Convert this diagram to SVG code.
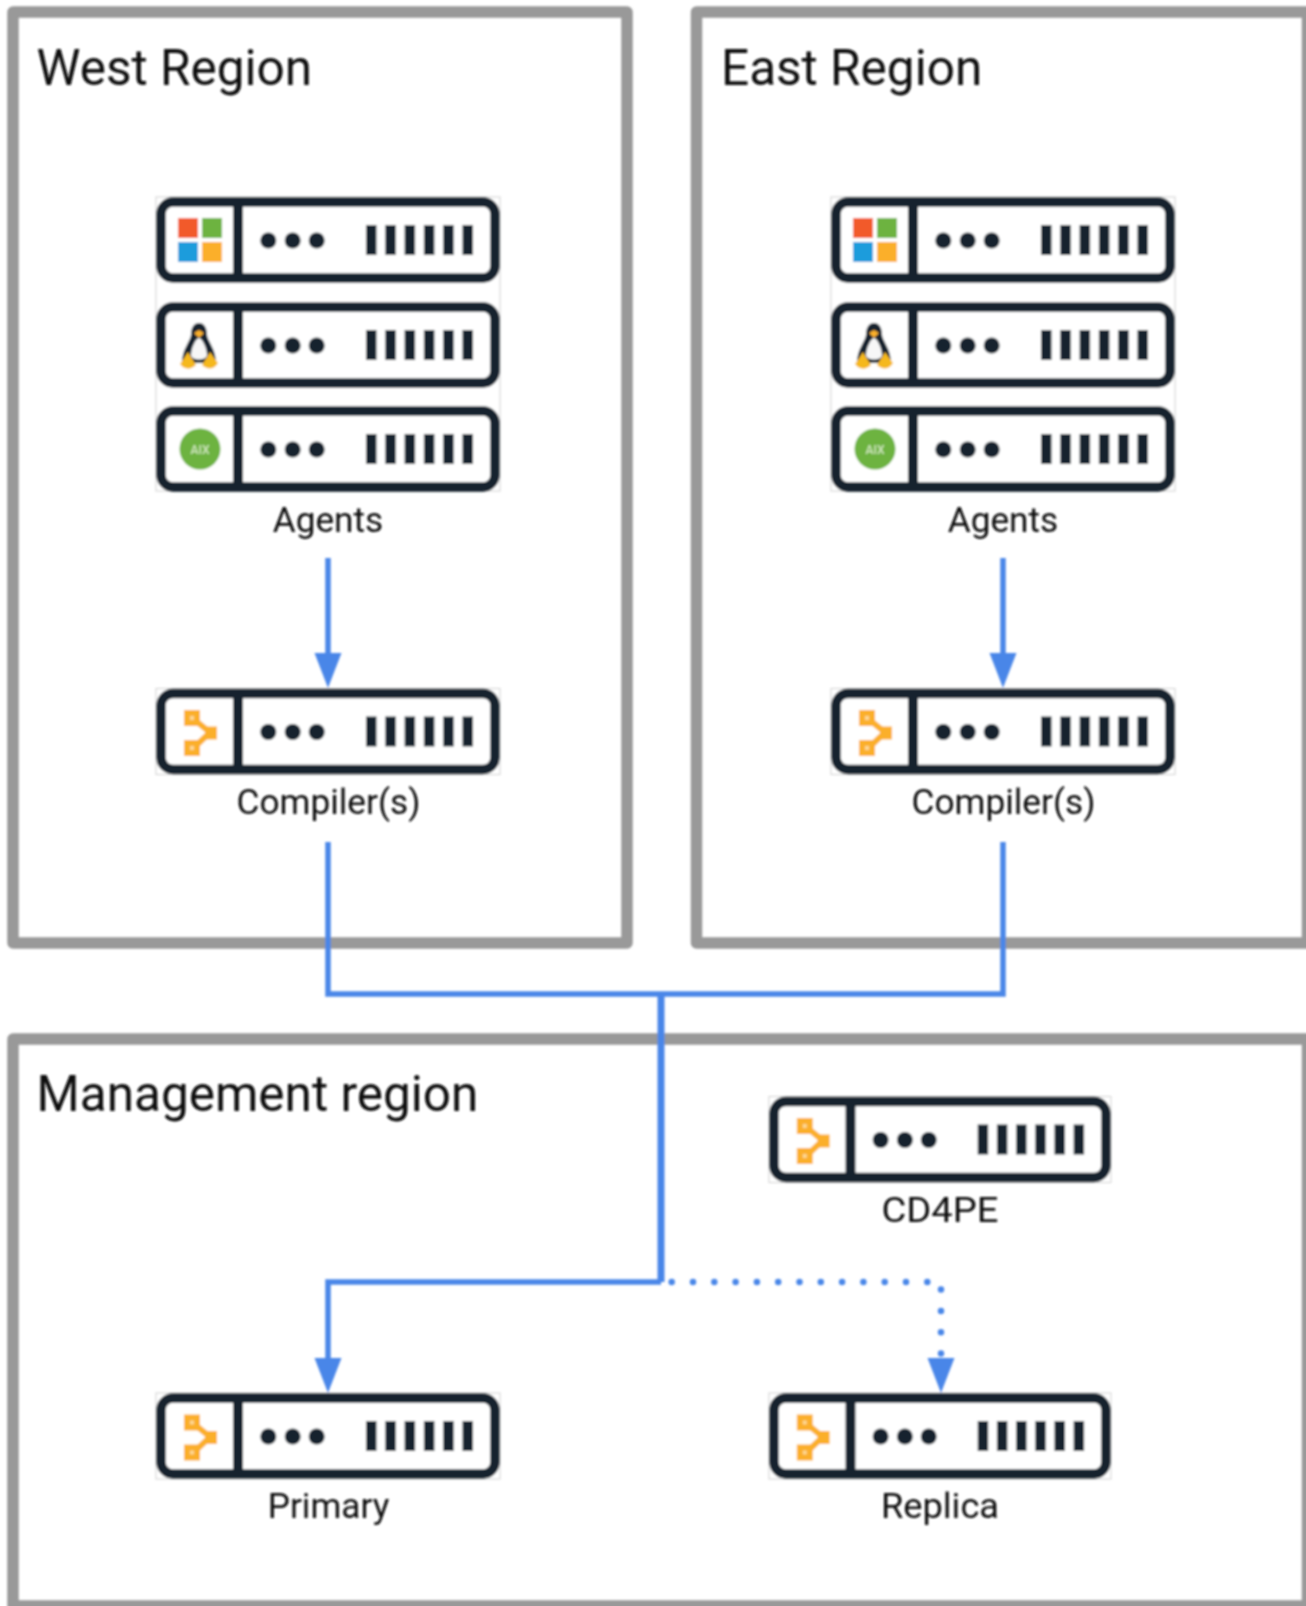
<svg xmlns="http://www.w3.org/2000/svg" width="1306" height="1606" viewBox="0 0 1306 1606">
<style>
.region{fill:none;stroke:#999;stroke-width:11.5;stroke-linejoin:round}
.title{font-family:Roboto,"Liberation Sans",sans-serif;font-size:49.5px;fill:#0c0c0c}
.label{font-family:Roboto,"Liberation Sans",sans-serif;font-size:35.2px;fill:#111;text-anchor:middle}
.wire{fill:none;stroke:#4a86e8;stroke-width:5.5}
.dot{fill:none;stroke:#4a86e8;stroke-width:6.5;stroke-linecap:round;stroke-dasharray:0 21.3}
.frame{fill:#fff;stroke:#d0d0d0;stroke-width:1}
.body{fill:none;stroke:#14232f;stroke-width:9.500}
.ink{fill:#14232f}
.org{fill:#fbaf2b}
</style>
<defs>
<filter id="soft" x="0" y="0" width="1306" height="1606" filterUnits="userSpaceOnUse"><feGaussianBlur stdDeviation="1"/></filter>
<marker id="arrow" markerUnits="userSpaceOnUse" markerWidth="36" markerHeight="28" refX="8" refY="14" orient="auto"><path d="M0 0.500L35 14L0 27.500Z" fill="#4a86e8"/></marker>
<g id="rack">
<rect class="body" x="5" y="5" width="334" height="76" rx="12"/>
<rect class="ink" x="77" y="4" width="10" height="78"/>
<circle class="ink" cx="112.300" cy="43.500" r="8"/><circle class="ink" cx="136.700" cy="43.500" r="8"/><circle class="ink" cx="160.700" cy="43.500" r="8"/>
<rect class="ink" x="210" y="28" width="10.500" height="30"/><rect class="ink" x="229.300" y="28" width="10.500" height="30"/><rect class="ink" x="248.600" y="28" width="10.500" height="30"/><rect class="ink" x="267.900" y="28" width="10.500" height="30"/><rect class="ink" x="287.200" y="28" width="10.500" height="30"/><rect class="ink" x="306.500" y="28" width="10.500" height="30"/>
</g>
<g id="puppet">
<path d="M37 30L54 44L37 60" fill="none" stroke="#fbaf2b" stroke-width="6"/>
<rect x="31" y="24.500" width="10" height="10" fill="#fdd792" stroke="#fbaf2b" stroke-width="6"/>
<rect x="31" y="54.500" width="10" height="10" fill="#fdd792" stroke="#fbaf2b" stroke-width="6"/>
<rect class="org" x="49" y="38" width="12" height="13"/>
</g>
<g id="agents">
<rect class="frame" x="0" y="0" width="344" height="294"/>
<use href="#rack"/><use href="#rack" y="105"/><use href="#rack" y="209"/>
<rect x="22" y="21" width="20" height="20" fill="#f25a2b"/><rect x="46" y="21" width="20" height="20" fill="#6db33f"/>
<rect x="22" y="45" width="20" height="20" fill="#1e9cdc"/><rect x="46" y="45" width="20" height="20" fill="#fbaf2b"/>
<path d="M43 126C49 126 51 132 51 138C52 145 60 152 60 166L26 166C26 152 34 145 35 138C35 132 37 126 43 126Z" fill="#14232f"/>
<path d="M43 141C46 141 51 151 51 158C51 164 35 164 35 158C35 151 40 141 43 141Z" fill="#f7f7f7"/>
<path d="M38 136L43 133L48 136L43 141Z" fill="#fbaf2b"/>
<path d="M24 167L32 155L40 168C35 173 28 173 24 167ZM46 168L54 155L62 166C58 173 51 173 46 168Z" fill="#f5b81f"/>
<circle cx="44" cy="252" r="20.500" fill="#6db33f"/>
<text x="44" y="256.500" font-family="Roboto,'Liberation Sans',sans-serif" font-size="12" font-weight="500" fill="#cfe7bb" text-anchor="middle">AIX</text>
</g>
<g id="server">
<rect class="frame" x="0" y="0" width="344" height="86"/>
<use href="#rack"/><use href="#puppet"/>
</g>
</defs>
<rect width="1306" height="1606" fill="#fff"/>
<g filter="url(#soft)">
<g id="west-region"><rect class="region" x="13" y="12" width="614" height="931"/><text class="title" x="36.500" y="85">West Region</text></g>
<g id="east-region"><rect class="region" x="696.500" y="12" width="611" height="931"/><text class="title" x="721" y="85">East Region</text></g>
<g id="management-region"><rect class="region" x="13" y="1039" width="1294.500" height="567"/><text class="title" x="36.500" y="1111">Management region</text></g>
<g id="west-agents"><use href="#agents" x="156" y="197"/><text class="label" x="328" y="532">Agents</text></g>
<g id="west-compilers"><use href="#server" x="156" y="688.500"/><text class="label" x="328.500" y="814" textLength="184" lengthAdjust="spacingAndGlyphs">Compiler(s)</text></g>
<g id="east-agents"><use href="#agents" x="831" y="197"/><text class="label" x="1003" y="532">Agents</text></g>
<g id="east-compilers"><use href="#server" x="831" y="688.500"/><text class="label" x="1003.500" y="814" textLength="184" lengthAdjust="spacingAndGlyphs">Compiler(s)</text></g>
<g id="cd4pe"><use href="#server" transform="translate(769 1096.500) scale(.994 1)"/><text class="label" x="940" y="1222" textLength="117" lengthAdjust="spacingAndGlyphs">CD4PE</text></g>
<g id="primary"><use href="#server" x="156" y="1393"/><text class="label" x="328.500" y="1518">Primary</text></g>
<g id="replica"><use href="#server" transform="translate(769 1393) scale(.994 1)"/><text class="label" x="940" y="1518" textLength="118" lengthAdjust="spacingAndGlyphs">Replica</text></g>
<g id="connectors">
<path class="wire" d="M328 558V661" marker-end="url(#arrow)"/>
<path class="wire" d="M1003 558V661" marker-end="url(#arrow)"/>
<path class="wire" d="M328 842V994H1003V842"/>
<path class="wire" style="stroke-width:7" d="M661 994V1282"/>
<path class="wire" d="M661 1282H328V1366" marker-end="url(#arrow)"/>
<path class="dot" d="M671.700 1282H941V1354"/>
<path d="M927.500 1358H954.500L941 1393Z" fill="#4a86e8"/>
</g>
</g>
</svg>
